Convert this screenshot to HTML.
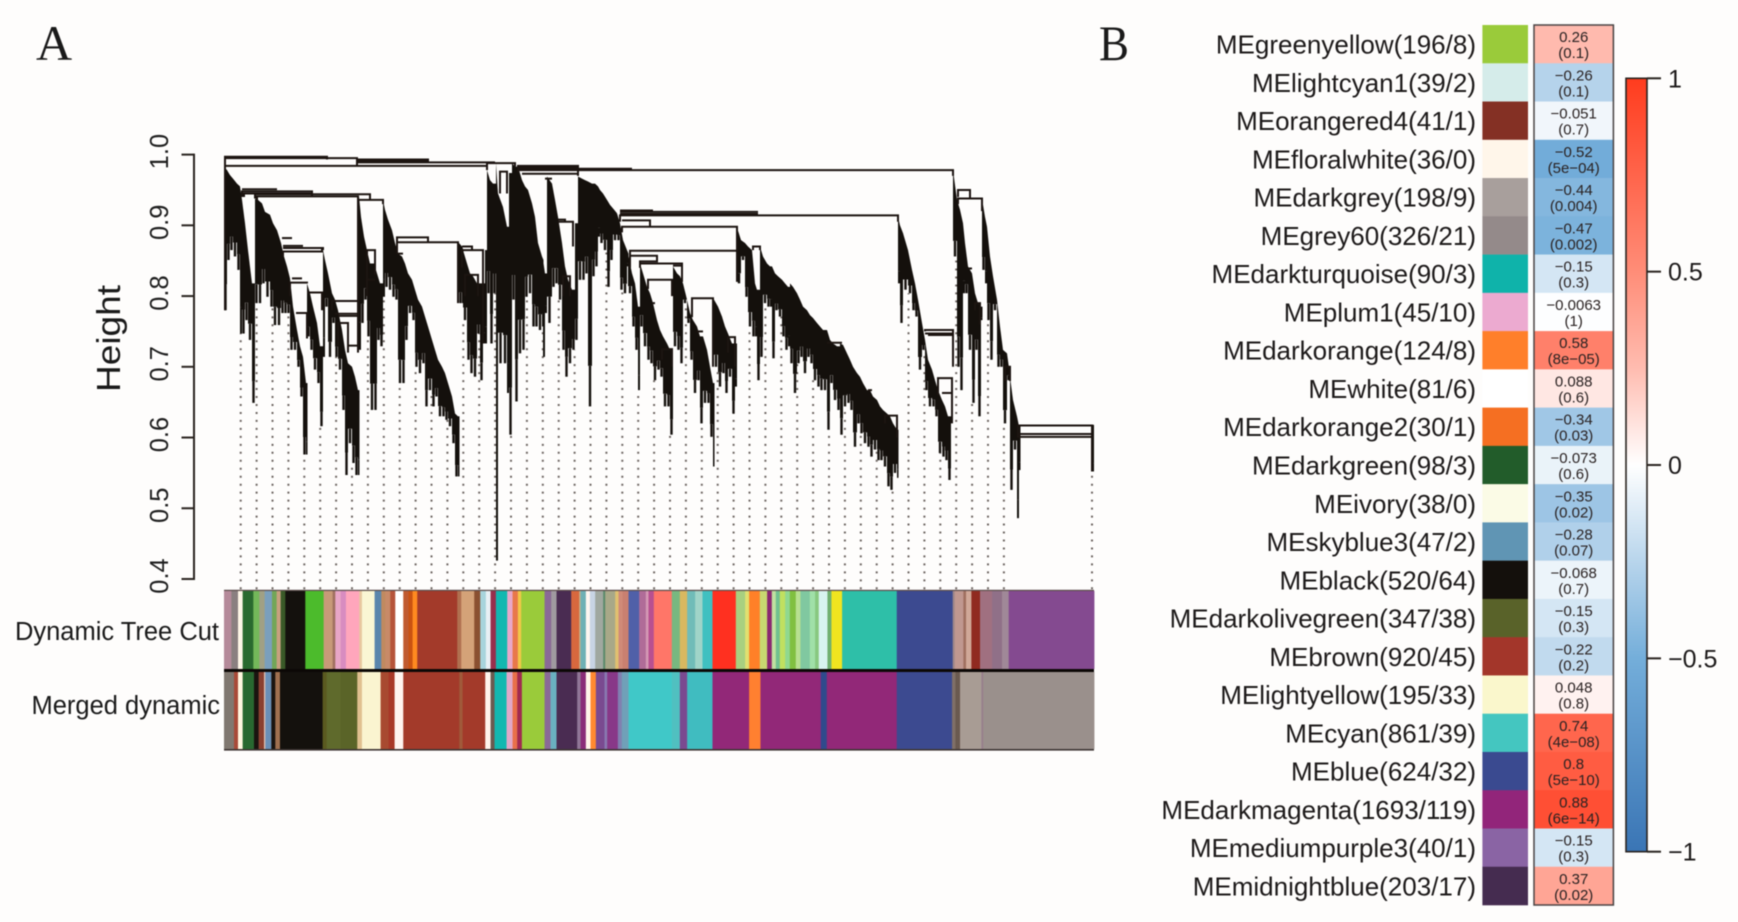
<!DOCTYPE html>
<html lang="en">
<head>
<meta charset="utf-8">
<title>Module dendrogram and module-trait correlation</title>
<style>
html,body{margin:0;padding:0;background:#fefdfc;}
#figure{display:block;width:1738px;height:922px;filter:blur(0.55px);font-family:"Liberation Sans",sans-serif;}
</style>
</head>
<body>
<svg id="figure" xmlns="http://www.w3.org/2000/svg" width="1738" height="922" viewBox="0 0 1738 922">
  <rect x="0" y="0" width="1738" height="922" fill="#fefdfc"/>
  <text x="36" y="60" font-family="'Liberation Serif',serif" font-size="50" fill="#1a1a1a">A</text>
  <text x="1099" y="60" font-family="'Liberation Serif',serif" font-size="50" textLength="30" lengthAdjust="spacingAndGlyphs" fill="#1a1a1a">B</text>
  <text transform="translate(120,392) rotate(-90)" font-size="33" textLength="107" lengthAdjust="spacingAndGlyphs" fill="#1a1a1a">Height</text>
  <text x="219" y="640" text-anchor="end" font-size="25.5" fill="#1a1a1a">Dynamic Tree Cut</text>
  <text x="220" y="714" text-anchor="end" font-size="25.5" fill="#1a1a1a">Merged dynamic</text>
  <g id="guides"></g>
  <g id="branches"></g>
  <g id="merges"></g>
  <g id="yaxis"></g>
  <g id="bars"></g>
  <g id="heat"></g>
  <g id="scale"></g>
</svg>
<script>
// Height axis
const heightTicks = [1.0, 0.9, 0.8, 0.7, 0.6, 0.5, 0.4];
const heightTickLabels = ["1.0", "0.9", "0.8", "0.7", "0.6", "0.5", "0.4"];

// Dendrogram columns: leaf rank, top of the branch mass, lowest leaf drop
const branchLeaf = [
0,3,6,9,13,16,18,21,24,28,
31,34,38,41,46,49,53,57,60,63,
66,69,73,76,79,82,83,86,89,93,
96,99,101,104,108,111,114,118,121,124,
128,131,134,135,137,140,143,146,150,153,
156,159,161,164,168,171,174,178,181,184,
188,191,194,198,201,204,208,211,214,218,
221,224,228,231,234,235,238,239,243,246,
249,253,256,259,261,263,266,269,272,274,
279,283,285,288,291,294,298,301,304,308,
311,314,318,319,321,323,328,331,334,338,
341,344,348,351,354,358,361,364,368,371,
374,376,379,383,386,389,393,396,399,403,
404,408,411,414,416,419,423,426,429,433,
436,439,443,446,449,453,456,459,463,466,
469,473,476,479,483,486,489,490,494,498,
501,504,508,511,513,517,521,524,528,531,
533,536,539,543,546,548,551,554,558,561,
564,566,569,573,576,579,583,586,589,593,
596,599,603,606,609,613,616,619,623,626,
629,633,636,639,643,646,649,653,656,659,
663,666,669,673,674,676,679,684,688,691,
694,698,701,704,708,711,714,718,721,724,
727,729,733,736,739,741,744,748,751,754,
757,758,761,763,766,769,773,776,779,783,
786,789,793,795,796,868,870];
const branchTop = [
.983,.978,.971,.966,.959,.955,.936,.903,.865,.818,
.938,.936,.931,.919,.915,.903,.893,.875,.856,.842,
.825,.785,.752,.729,.714,.677,.818,.804,.785,.762,
.729,.865,.851,.832,.804,.795,.780,.752,.724,.705,
.700,.686,.667,.941,.912,.884,.865,.846,.846,.832,
.818,.936,.922,.908,.893,.875,.860,.856,.846,.832,
.823,.809,.795,.785,.771,.757,.738,.724,.710,.700,
.691,.677,.658,.634,.630,.875,.870,.865,.846,.832,
.828,.818,.818,.818,.865,.978,.964,.959,.988,.945,
.926,.898,.974,.988,.983,.983,.964,.955,.950,.931,
.912,.875,.856,.851,.832,.969,.959,.936,.912,.875,
.842,.823,.809,.903,.969,.966,.964,.962,.959,.959,
.955,.950,.945,.936,.929,.924,.917,.903,.879,.865,
.860,.832,.818,.785,.846,.832,.813,.804,.790,.766,
.752,.743,.733,.724,.842,.832,.828,.818,.795,.776,
.766,.757,.743,.743,.724,.700,.677,.795,.785,.771,
.757,.747,.733,.733,.897,.879,.875,.870,.865,.818,
.809,.870,.856,.846,.842,.842,.832,.828,.823,.818,
.813,.818,.813,.804,.795,.785,.780,.773,.769,.762,
.757,.752,.752,.738,.733,.729,.733,.731,.719,.710,
.700,.691,.686,.677,.667,.667,.658,.653,.644,.639,
.634,.630,.620,.611,.912,.900,.889,.865,.837,.818,
.795,.762,.738,.710,.696,.681,.667,.653,.644,.630,
null,.978,.936,.922,.903,.875,.842,.832,.804,.790,
.785,.938,.912,.898,.856,.828,.795,.757,.724,.719,
.686,.653,.630,.616,null,.618,null];
const branchBottom = [
.780,.851,.865,.856,.837,.747,.747,.766,.738,.649,
.790,.790,.818,.799,.785,.759,.759,.776,.776,.776,
.724,.724,.700,.658,.576,.576,.743,.724,.696,.677,
.616,.714,.785,.714,.762,.714,.696,.639,.547,.592,
.564,.547,.547,.724,.762,.795,.743,.639,.639,.738,
.729,.799,.813,.809,.799,.795,.677,.677,.738,.776,
.766,.700,.691,.705,.644,.667,.644,.658,.630,.630,
.625,.616,.592,.545,.545,.790,.790,.766,.710,.691,
.686,.747,.681,.733,.733,.804,.733,.804,.426,.705,
.705,.663,.604,.795,.651,.719,.724,.799,.804,.757,
.757,.752,.757,.714,.776,.762,.813,.818,.795,.724,
.686,.705,.724,.738,.823,.823,.832,.644,.828,.842,
.884,.875,.865,.813,.851,.879,.879,.809,.804,.842,
.804,.757,.724,.667,.757,.729,.710,.705,.681,.696,
.686,.644,.644,.604,.729,.724,.705,.790,.762,.710,
.663,.681,.620,.649,.649,.601,.559,.700,.672,.691,
.663,.686,.634,.672,.818,.851,.799,.757,.743,.743,
.681,.714,.790,.785,.785,.712,.780,.771,.743,.724,
.729,.705,.663,.705,.714,.691,.714,.705,.681,.672,
.667,.667,.611,.677,.653,.639,.604,.644,.649,.639,
.587,.620,.606,.592,.587,.573,.583,.568,.568,.559,
.531,.526,.550,.543,.818,.762,.809,.804,.780,.771,
.696,.724,.667,.644,.644,.630,.578,.573,.568,.540,
null,.856,.700,.667,.804,.804,.724,.649,.724,.630,
.766,.837,.818,.766,.710,.780,.700,.700,.620,.681,
.526,.583,.486,.554,null,.552,null];

// Dendrogram merges: left and right leaf, merge height, floor of each leg
const mergeLeft = [1,1,133,133,133,1,263,276,18,18,20,31,33,134,58,59,59,79,59,66,68,83,72,108,111,114,124,114,143,143,173,173,238,238,241,173,294,294,294,294,298,321,334,334,339,396,396,396,396,398,398,406,406,416,416,424,449,468,504,473,438,529,428,701,701,704,714,718,734,734,781,744,751,794,794,794,603,661,644];
const mergeRight = [103,133,204,204,271,263,291,283,53,88,88,146,134,159,68,79,79,99,98,83,78,98,83,134,134,134,134,124,151,151,204,234,248,259,254,179,354,354,408,729,354,328,349,341,346,429,534,534,674,426,513,513,433,433,458,448,458,489,511,479,448,536,431,729,729,729,728,728,746,758,786,748,756,868,868,868,618,673,648];
const mergeHeight = [.997,.995,.993,.991,.989,.984,.988,.976,.951,.948,.945,.944,.941,.936,.882,.871,.868,.868,.863,.819,.825,.805,.776,.793,.775,.772,.730,.762,.865,.823,.883,.876,.870,.865,.830,.860,.984,.982,.980,.978,.973,.966,.905,.908,.828,.921,.919,.916,.914,.907,.898,.864,.857,.849,.846,.823,.843,.797,.742,.750,.725,.870,.790,.752,.747,.745,.684,.663,.950,.938,.700,.839,.790,.617,.605,.601,.734,.631,.667];
const mergeLeftFloor = [.984,.984,.993,.991,.984,.780,.984,.945,.951,.940,.940,.938,.935,.941,.882,.871,.868,.868,.856,.800,.825,.805,.776,.780,.775,.772,.720,.730,.800,.823,.875,.860,.870,.840,.800,.860,.980,.982,.980,.975,.973,.966,.905,.908,.800,.921,.919,.916,.905,.907,.890,.840,.857,.840,.840,.810,.843,.770,.720,.750,.710,.865,.790,.750,.747,.745,.660,.663,.940,.930,.680,.839,.780,.600,.605,.601,.734,.620,.667];
const mergeRightFloor = [.993,.984,.989,.989,.989,.978,.983,.945,.951,.940,.940,.936,.724,.930,.882,.871,.868,.865,.868,.818,.825,.780,.740,.724,.775,.772,.720,.730,.830,.823,.876,.790,.865,.733,.800,.860,.970,.982,.980,.970,.973,.966,.870,.905,.800,.921,.919,.916,.905,.898,.820,.870,.849,.857,.820,.800,.820,.700,.700,.750,.700,.865,.790,.700,.747,.745,.620,.663,.938,.920,.680,.839,.760,.552,.552,.552,.734,.600,.667];

// Guide lines hang from the leaves at these module marks
const guideCount = 49;
const guideFirstLeaf = 16.7;
const guideStepLeaf = 15.9;
const guideLastLeaf = 868;

// Colour bars: module colour and number of leaves (hundredths of the order)
const treeCutColors = ["#b58a9a","#8a7f80","#fdf5e6","#2a6a2f","#74b85a","#a0a084","#7a9fbc","#72a658","#c8a080","#3a5a28","#14110d","#4cbb2c","#c89a78","#a07060","#e8a6c6","#d88cc0","#ffa6bc","#e8c8a0","#faf6d4","#5a85ac","#c08a60","#c88a68","#b5543a","#ffffff","#c05a30","#c95212","#ff8a20","#a33a2a","#b07050","#d4a278","#8a5030","#a8d4dc","#e8f0f4","#98304c","#12b8b0","#e8a8c8","#e8784a","#f0c848","#9acb3a","#8a6a96","#a09aa0","#4a2c52","#d8683e","#c8b088","#6fb0b4","#fff6f0","#c8d4e4","#a0a8a0","#5a8a6a","#a8a888","#e0c070","#d08a78","#c98070","#5060a8","#b06c98","#d498b4","#b85090","#ff7668","#78b880","#d8b860","#70bcb8","#a0d4c8","#40c0c0","#ff3020","#a8d080","#e0e070","#ff8028","#c8d870","#8a2870","#c0e0a0","#70c090","#c0e060","#90d890","#80c040","#b8e090","#80c8a0","#a0e0a8","#88c880","#d8f4f0","#70b070","#f0e420","#2ebfa8","#3c4a90","#a08888","#c09890","#a07060","#d0a898","#902a20","#a07080","#907088","#a08898","#844a90"];
const treeCutSizes = [22,20,14,32,18,16,22,14,12,14,60,55,27,8,16,16,40,8,38,20,12,15,15,24,16,12,14,120,12,39,18,17,14,16,34,16,16,10,70,20,16,44,24,4,16,12,16,24,6,30,10,12,18,32,20,8,16,54,24,22,24,22,30,70,28,12,32,22,14,12,12,16,14,18,14,28,16,11,26,12,32,164,168,6,26,8,16,26,36,30,20,256];
const mergedColors = ["#807870","#a84a38","#fff6e0","#286830","#1a1410","#8a4030","#e0c0b0","#6a90b8","#1a1410","#a07050","#14110d","#5a5a20","#5f6a2c","#5a6428","#e0c090","#faf4d0","#a84a30","#a83828","#fff4f0","#a33a2a","#a05a3a","#a33a2a","#fff4ec","#6a5a50","#12b8b0","#e0a8c8","#e8704a","#a02a50","#9acb3a","#8a6a96","#6ab0c0","#4a2c52","#907898","#8a2c78","#fff4ea","#ff8a30","#7a4a90","#8878b0","#883888","#8080b0","#70a0b8","#40c8c8","#50c0c0","#7a4a90","#40bcc0","#922878","#ff8030","#922878","#922878","#304a8c","#922878","#3c4a90","#807068","#6a5a50","#a89c94","#98808c","#9a908c"];
const mergedSizes = [30,12,14,34,14,16,4,18,12,14,128,12,42,50,14,56,24,18,26,168,10,68,16,12,36,18,14,14,68,18,18,62,10,16,14,16,26,8,32,12,20,130,24,22,76,110,34,164,17,18,210,166,10,14,64,6,332];

// Module table
const moduleNames = ["MEgreenyellow","MElightcyan1","MEorangered4","MEfloralwhite","MEdarkgrey","MEgrey60","MEdarkturquoise","MEplum1","MEdarkorange","MEwhite","MEdarkorange2","MEdarkgreen","MEivory","MEskyblue3","MEblack","MEdarkolivegreen","MEbrown","MElightyellow","MEcyan","MEblue","MEdarkmagenta","MEmediumpurple3","MEmidnightblue"];
const moduleCounts = ["196/8","39/2","41/1","36/0","198/9","326/21","90/3","45/10","124/8","81/6","30/1","98/3","38/0","47/2","520/64","347/38","920/45","195/33","861/39","624/32","1693/119","40/1","203/17"];
const moduleColors = ["#9acb3a","#d5ecea","#843024","#fff6ea","#a89f9c","#948a8a","#0fb3aa","#ecaad0","#ff7f2a","#ffffff","#f56f22","#225c2a","#fbfbe6","#6095b4","#14100c","#596229","#a3362a","#faf7cc","#44c6c0","#3a4a90","#92257a","#8a64a4","#452c50"];
const moduleCorrelation = [0.26,-0.26,-0.051,-0.52,-0.44,-0.47,-0.15,-0.0063,0.58,0.088,-0.34,-0.073,-0.35,-0.28,-0.068,-0.15,-0.22,0.048,0.74,0.8,0.88,-0.15,0.37];
const modulePValue = ["0.1","0.1","0.7","5e\u221204","0.004","0.002","0.3","1","8e\u221205","0.6","0.03","0.6","0.02","0.07","0.7","0.3","0.2","0.8","4e\u221208","5e\u221210","6e\u221214","0.3","0.02"];

// Correlation colour scale
const scaleTicks = [1, 0.5, 0, -0.5, -1];
const scaleStopValues = [-1, -0.5, -0.25, 0, 0.25, 0.5, 1];
const scaleStopColors = ["#3a75b5", "#74aeda", "#b8d5ec", "#ffffff", "#ffbcb0", "#ff8d78", "#ff3c1e"];

const SVGNS = "http://www.w3.org/2000/svg";
function make(parent, tag, attrs, text) {
  const el = document.createElementNS(SVGNS, tag);
  for (const k in attrs) el.setAttribute(k, attrs[k]);
  if (text !== undefined) el.textContent = text;
  parent.appendChild(el);
  return el;
}
const byId = id => document.getElementById(id);
const minus = s => String(s).replace("-", "\u2212");

// Axis functions
const xLeaf = leaf => 224 + leaf / 870 * 870;
const yHeight = h => 579 + (h - 0.4) / 0.6 * (154.6 - 579);
const yScaleValue = v => 465 - v * 386.7;
const rowHeight = 880 / moduleNames.length;
const yRow = i => 25 + rowHeight * i;

function hexToRgb(h) {
  return [parseInt(h.slice(1, 3), 16), parseInt(h.slice(3, 5), 16), parseInt(h.slice(5, 7), 16)];
}
function corrColor(v) {
  for (let i = 0; i < scaleStopValues.length - 1; i++) {
    if (v <= scaleStopValues[i + 1]) {
      const t = Math.max(0, (v - scaleStopValues[i]) / (scaleStopValues[i + 1] - scaleStopValues[i]));
      const a = hexToRgb(scaleStopColors[i]), b = hexToRgb(scaleStopColors[i + 1]);
      return "rgb(" + a.map((c, j) => Math.round(c + (b[j] - c) * t)).join(",") + ")";
    }
  }
  return scaleStopColors[scaleStopColors.length - 1];
}

// Guides (dotted verticals below the leaves)
function branchFloorAt(leaf) {
  for (let i = branchLeaf.length - 2; i >= 0; i--) {
    if (branchLeaf[i] <= leaf) {
      let j = i;
      while (j > 0 && branchBottom[j] === null) j--;
      return branchBottom[j];
    }
  }
  return branchBottom[0];
}
for (let g = 0; g <= guideCount; g++) {
  const leaf = g === guideCount ? guideLastLeaf : guideFirstLeaf + g * guideStepLeaf;
  const line = make(byId("guides"), "line", {
    x1: xLeaf(leaf), x2: xLeaf(leaf), y1: 589.3, y2: yHeight(branchFloorAt(leaf)),
    stroke: "#6e6662", "stroke-width": 2, "stroke-dasharray": "2 5.97"
  });
  
  
}

// Branch columns: a dense mass with a sloped shoulder, then a narrow leaf spike
const massShare = 0.82;
for (let i = 0; i < branchLeaf.length - 1; i++) {
  if (branchTop[i] === null) continue;
  const x0 = xLeaf(branchLeaf[i]), x1 = Math.max(xLeaf(branchLeaf[i + 1]), x0 + 1.5);
  const y0 = yHeight(branchTop[i]), y1 = yHeight(branchBottom[i]);
  const yMass = y0 + (y1 - y0) * massShare;
  const nextTop = branchTop[i + 1];
  let yEdge = y0;
  if (nextTop !== null) {
    const yNext = yHeight(nextTop);
    if (yNext > y0 && yNext - y0 < 45) yEdge = Math.min(yNext, yMass);
  }
  const col = make(byId("branches"), "polygon", {
    points: x0 + "," + y0 + " " + x1 + "," + yEdge + " " + x1 + "," + yMass + " " + x0 + "," + yMass,
    fill: "#14100c"
  });
  
  
  const spikeWidth = Math.min(x1 - x0, 2.4);
  const spike = make(byId("branches"), "rect", {
    x: (x0 + x1 - spikeWidth) / 2, y: yMass, width: spikeWidth, height: y1 - yMass, fill: "#14100c"
  });
  
  
}

// Merge lines with legs
for (let i = 0; i < mergeLeft.length; i++) {
  const xa = xLeaf(mergeLeft[i]), xb = xLeaf(mergeRight[i]);
  const yh = yHeight(mergeHeight[i]);
  const path = make(byId("merges"), "path", {
    d: "M" + xa + " " + yHeight(mergeLeftFloor[i]) + "V" + yh + "H" + xb + "V" + yHeight(mergeRightFloor[i]),
    fill: "none", stroke: "#1c1410", "stroke-width": 2
  });
  
  
}

// Height axis
const axisLine = make(byId("yaxis"), "line", {
  x1: 194, x2: 194, y1: yHeight(heightTicks[0]) - 1, y2: yHeight(heightTicks[heightTicks.length - 1]) + 1,
  stroke: "#2a2420", "stroke-width": 2
});


heightTicks.forEach((t, i) => {
  const y = yHeight(t);
  const tick = make(byId("yaxis"), "line", { x1: 181.5, x2: 194, y1: y, y2: y, stroke: "#2a2420", "stroke-width": 2 });
  
  
  const label = make(byId("yaxis"), "text", {
    transform: "translate(168," + (y - 3) + ") rotate(-90)", "text-anchor": "middle",
    "font-size": 25.5, fill: "#1f1f1f"
  }, heightTickLabels[i]);
  
  
});

// Colour bars
function drawBar(colors, sizes, top, h, name) {
  const total = sizes.reduce((a, b) => a + b, 0);
  let run = 0;
  sizes.forEach((s, i) => {
    const x0 = 224 + run / total * 870, w = s / total * 870;
    run += s;
    const seg = make(byId("bars"), "rect", { x: x0, y: top, width: w + 0.4, height: h, fill: colors[i] });
    
    
  });
}
drawBar(treeCutColors, treeCutSizes, 591, 78, 'tree-cut-module-segment');
drawBar(mergedColors, mergedSizes, 672, 77, 'merged-module-segment');
const barTop = make(byId("bars"), "rect", { x: 224, y: 589.8, width: 870, height: 1.2, fill: "#5a4a48" });


const barMid = make(byId("bars"), "rect", { x: 224, y: 669, width: 870, height: 3, fill: "#0c0806" });


const barBottom = make(byId("bars"), "rect", { x: 224, y: 749, width: 870, height: 1.6, fill: "#3c3432" });



// Module labels, swatches and heatmap
moduleNames.forEach((name, i) => {
  const y = yRow(i), cy = y + rowHeight / 2;
  const label = make(byId("heat"), "text", {
    x: 1476, y: cy + 9.5, "text-anchor": "end", "font-size": 26, fill: "#1d1a1a"
  }, name + "(" + moduleCounts[i] + ")");
  
  
  const swatch = make(byId("heat"), "rect", { x: 1482.4, y: y, width: 45.6, height: rowHeight + 0.3, fill: moduleColors[i] });
  
  
  const cell = make(byId("heat"), "rect", { x: 1534, y: y, width: 79.4, height: rowHeight + 0.3, fill: corrColor(moduleCorrelation[i]) });
  
  
  const corrText = make(byId("heat"), "text", {
    x: 1573.7, y: cy - 2, "text-anchor": "middle", "font-size": 15, fill: "#2a2222"
  }, minus(moduleCorrelation[i]));
  
  
  const pText = make(byId("heat"), "text", {
    x: 1573.7, y: cy + 14, "text-anchor": "middle", "font-size": 15, fill: "#2a2222"
  }, "(" + modulePValue[i] + ")");
  
  
});
const heatFrame = make(byId("heat"), "rect", {
  x: 1534, y: 25, width: 79.4, height: 880, fill: "none", stroke: "#4a4444", "stroke-width": 1.5
});



// Colour scale
const defs = make(byId("scale"), "defs", {});
const grad = make(defs, "linearGradient", { id: "corrGradient", x1: 0, y1: 1, x2: 0, y2: 0 });
scaleStopValues.forEach((v, i) => {
  make(grad, "stop", { offset: (v + 1) / 2, "stop-color": scaleStopColors[i] });
});
const scaleBar = make(byId("scale"), "rect", {
  x: 1626, y: yScaleValue(1), width: 21, height: yScaleValue(-1) - yScaleValue(1),
  fill: "url(#corrGradient)", stroke: "#2a2420", "stroke-width": 1.6
});


scaleTicks.forEach(t => {
  const y = yScaleValue(t);
  const tick = make(byId("scale"), "line", { x1: 1647, x2: 1661, y1: y, y2: y, stroke: "#2a2420", "stroke-width": 2 });
  
  
  const label = make(byId("scale"), "text", { x: 1668, y: y + 9, "font-size": 25, fill: "#1d1a1a" }, minus(t));
  
  
});
</script>
</body>
</html>
